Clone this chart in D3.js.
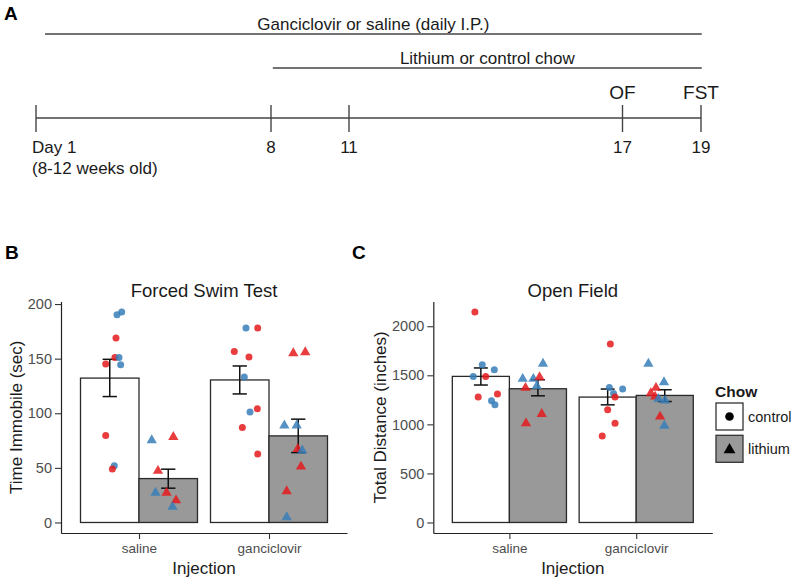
<!DOCTYPE html>
<html><head><meta charset="utf-8">
<script src="https://cdn.jsdelivr.net/npm/d3@7"></script>
<style>
body{margin:0;background:#fff}
svg{display:block}
text{font-family:"Liberation Sans",Arial,Helvetica,sans-serif}
</style>
</head><body>
<svg id="chart" width="800" height="578"></svg>
<script>
// ---------- Panel A: timeline ----------
const timelineDays = [1, 8, 11, 17, 19];
const timelineLabels = ["Day 1", "8", "11", "17", "19"];
const timelineSubLabel = "(8-12 weeks old)";
const eventDays = [17, 19];
const eventLabels = ["OF", "FST"];
const spanLabels = ["Ganciclovir or saline (daily I.P.)", "Lithium or control chow"];
const spanStarts = [1.27, 8.07];
const spanEnds = [19.02, 19.02];

// ---------- Panels B & C ----------
const injections = ["saline", "ganciclovir"];
const chows = ["control", "lithium"];
const dotColors = {r: "#E41A1C", b: "#377EB8"};

// order: saline-control, saline-lithium, ganciclovir-control, ganciclovir-lithium
const fstMeans   = [132.2, 40.2, 130.5, 79.3];
const fstErrLow  = [115.3, 31.4, 117.7, 64.0];
const fstErrHigh = [149.4, 48.8, 143.3, 94.6];
const fstTicks   = [0, 50, 100, 150, 200];
// [injection, chow, colour, value, jitter]
const fstPoints = [
  [0,0,"b",192.7,0.092],[0,0,"b",190.2,0.056],[0,0,"r",168.9,0.048],[0,0,"r",151.1,0.040],[0,0,"b",151.0,0.071],
  [0,0,"r",145.0,-0.031],[0,0,"b",144.4,0.084],[0,0,"r",79.7,-0.031],[0,0,"b",51.9,0.035],[0,0,"r",48.9,0.020],
  [0,1,"b",76,-0.127],[0,1,"r",79,0.039],[0,1,"r",48,-0.079],[0,1,"b",28,-0.098],[0,1,"r",28,-0.013],
  [0,1,"r",21,0.060],[0,1,"b",15,0.033],
  [1,0,"b",178,0.048],[1,0,"r",178,0.138],[1,0,"r",156.6,-0.042],[1,0,"r",151.5,0.071],[1,0,"b",133.2,0.035],
  [1,0,"r",104.1,0.135],[1,0,"b",101.1,0.079],[1,0,"r",87,0.020],[1,0,"r",62.6,0.138],
  [1,1,"r",155.7,-0.038],[1,1,"r",156.6,0.054],[1,1,"b",89.5,-0.107],[1,1,"b",89.5,-0.012],[1,1,"r",68.1,-0.004],
  [1,1,"b",66.6,0.031],[1,1,"r",51.9,0.021],[1,1,"r",29.3,-0.089],[1,1,"b",5.5,-0.089]
];

const ofMeans   = [1489, 1363, 1278, 1295];
const ofErrLow  = [1401, 1291, 1199, 1233];
const ofErrHigh = [1575, 1455, 1360, 1353];
const ofTicks   = [0, 500, 1000, 1500, 2000];
const ofPoints = [
  [0,0,"r",2145,-0.047],[0,0,"b",1608,0.011],[0,0,"b",1557,0.106],[0,0,"b",1489,-0.060],[0,0,"r",1489,0.038],
  [0,0,"r",1280,-0.021],[0,0,"r",1310,0.131],[0,0,"b",1240,0.084],[0,0,"b",1200,0.111],
  [0,1,"b",1472,-0.120],[0,1,"r",1380,-0.098],[0,1,"b",1472,-0.036],[0,1,"r",1489,0.013],[0,1,"b",1626,0.040],
  [0,1,"b",1400,-0.009],[0,1,"r",1114,0.030],[0,1,"r",1018,-0.094],
  [1,0,"r",1820,0.021],[1,0,"b",1375,0.013],[1,0,"b",1360,0.118],[1,0,"b",1315,0.046],[1,0,"r",1278,0.058],
  [1,0,"r",1148,0.0],[1,0,"r",1012,0.058],[1,0,"r",882,-0.043],
  [1,1,"b",1626,-0.129],[1,1,"b",1438,-0.006],[1,1,"r",1380,-0.069],[1,1,"r",1325,-0.110],[1,1,"r",1291,-0.076],
  [1,1,"b",1268,-0.050],[1,1,"b",1250,0.002],[1,1,"r",1087,-0.037],[1,1,"b",995,-0.003]
];

const svg = d3.select("#chart");
const ink = "#1a1a1a";

// ---------- Panel A ----------
const tl = d3.scaleLinear().domain(timelineDays).range([36, 271, 349, 622.5, 701]);
const gA = svg.append("g");
gA.append("text").attr("x", 4).attr("y", 20).attr("font-size", 19).attr("font-weight", "bold").text("A");
const spanY = [34, 68];
spanLabels.forEach((lab, i) => {
  gA.append("line").attr("x1", tl(spanStarts[i])).attr("x2", tl(spanEnds[i]))
    .attr("y1", spanY[i]).attr("y2", spanY[i]).attr("stroke", "#444").attr("stroke-width", 1.4);
  gA.append("text").attr("x", (tl(spanStarts[i]) + tl(spanEnds[i])) / 2).attr("y", spanY[i] - 4.5)
    .attr("text-anchor", "middle").attr("font-size", 17).attr("fill", ink).text(lab);
});
gA.append("line").attr("x1", tl(1)).attr("x2", tl(19)).attr("y1", 118).attr("y2", 118)
  .attr("stroke", "#444").attr("stroke-width", 1.4);
timelineDays.forEach((d, i) => {
  gA.append("line").attr("x1", tl(d)).attr("x2", tl(d)).attr("y1", 105).attr("y2", 132)
    .attr("stroke", "#444").attr("stroke-width", 1.4);
  gA.append("text").attr("x", i === 0 ? tl(d) - 4 : tl(d)).attr("y", 153)
    .attr("text-anchor", i === 0 ? "start" : "middle").attr("font-size", 17).attr("fill", ink)
    .text(timelineLabels[i]);
});
gA.append("text").attr("x", tl(1) - 4).attr("y", 174).attr("font-size", 17).attr("fill", ink).text(timelineSubLabel);
eventDays.forEach((d, i) => {
  gA.append("text").attr("x", tl(d)).attr("y", 99).attr("text-anchor", "middle")
    .attr("font-size", 19).attr("fill", ink).text(eventLabels[i]);
});

// ---------- Bar panels ----------
const yTop = 301.5, yBot = 533;
function panel(o) {
  const g = svg.append("g");
  const x = d3.scaleLinear().domain([0.4, 2.6]).range([o.x0, o.x1]);
  const maxV = d3.max(o.points, p => p[3]);
  const y = d3.scaleLinear().domain([-0.05 * maxV, maxV * 1.05]).range([yBot, yTop]);
  const half = 0.225;
  const center = (gi, ci) => gi + 1 + (ci === 0 ? -half : half);

  g.append("text").attr("x", o.letterX).attr("y", 259).attr("font-size", 19).attr("font-weight", "bold").text(o.letter);
  g.append("text").attr("x", (o.x0 + o.x1) / 2).attr("y", 296.5).attr("text-anchor", "middle")
    .attr("font-size", 18.5).attr("fill", ink).text(o.title);

  const bars = [];
  injections.forEach((inj, gi) => chows.forEach((ch, ci) => {
    const k = gi * 2 + ci;
    bars.push({gi, ci, mean: o.means[k], lo: o.lo[k], hi: o.hi[k]});
  }));
  g.selectAll("rect.bar").data(bars).enter().append("rect").attr("class", "bar")
    .attr("x", d => x(center(d.gi, d.ci) - half))
    .attr("width", d => x(center(d.gi, d.ci) + half) - x(center(d.gi, d.ci) - half))
    .attr("y", d => y(d.mean)).attr("height", d => y(0) - y(d.mean))
    .attr("fill", d => d.ci === 0 ? "#ffffff" : "#999999")
    .attr("stroke", "#2a2a2a").attr("stroke-width", 1.3);

  const cap = 0.055;
  bars.forEach(d => {
    const cx = x(center(d.gi, d.ci));
    g.append("line").attr("x1", cx).attr("x2", cx).attr("y1", y(d.lo)).attr("y2", y(d.hi))
      .attr("stroke", "#111").attr("stroke-width", 1.5);
    [d.lo, d.hi].forEach(v => g.append("line")
      .attr("x1", x(center(d.gi, d.ci) - cap)).attr("x2", x(center(d.gi, d.ci) + cap))
      .attr("y1", y(v)).attr("y2", y(v)).attr("stroke", "#111").attr("stroke-width", 1.5));
  });

  const tri = d3.symbol().type(d3.symbolTriangle).size(46);
  o.points.forEach(p => {
    const px = x(center(p[0], p[1]) + p[4]), py = y(p[3]);
    if (p[1] === 0) {
      g.append("circle").attr("cx", px).attr("cy", py).attr("r", 3.5)
        .attr("fill", dotColors[p[2]]).attr("fill-opacity", 0.85);
    } else {
      g.append("path").attr("d", tri).attr("transform", `translate(${px},${py + 0.8})`)
        .attr("fill", dotColors[p[2]]).attr("fill-opacity", 0.85);
    }
  });

  const ya = g.append("g").attr("transform", `translate(${o.x0},0)`)
    .call(d3.axisLeft(y).tickValues(o.ticks).tickFormat(d3.format("d")).tickSize(6).tickSizeOuter(0).tickPadding(3));
  const xa = g.append("g").attr("transform", `translate(0,${yBot})`)
    .call(d3.axisBottom(x).tickValues([1, 2]).tickFormat(i => injections[i - 1]).tickSize(6).tickSizeOuter(0).tickPadding(4));
  [ya, xa].forEach(a => {
    a.select(".domain").attr("stroke", "#222").attr("stroke-width", 1.2);
    a.selectAll(".tick line").attr("stroke", "#333").attr("stroke-width", 1.1);
    a.selectAll(".tick text").attr("fill", "#4d4d4d")
      .attr("font-family", "Liberation Sans, Arial, sans-serif");
  });
  ya.selectAll(".tick text").attr("font-size", 14.5);
  xa.selectAll(".tick text").attr("font-size", 13.5);
  g.append("text").attr("x", (o.x0 + o.x1) / 2).attr("y", 574).attr("text-anchor", "middle")
    .attr("font-size", 17).attr("fill", ink).text("Injection");
  g.append("text").attr("transform", `translate(${o.ylabX},${(yTop + yBot) / 2}) rotate(-90)`)
    .attr("text-anchor", "middle").attr("dy", "0.35em").attr("font-size", 17).attr("fill", ink).text(o.ylab);
}

panel({x0: 61, x1: 347, letter: "B", letterX: 5, title: "Forced Swim Test", ylab: "Time Immobile (sec)",
  ylabX: 16, means: fstMeans, lo: fstErrLow, hi: fstErrHigh, points: fstPoints, ticks: fstTicks});
panel({x0: 433.3, x1: 712.3, letter: "C", letterX: 352, title: "Open Field", ylab: "Total Distance (inches)",
  ylabX: 380, means: ofMeans, lo: ofErrLow, hi: ofErrHigh, points: ofPoints, ticks: ofTicks});

// ---------- Legend ----------
const lg = svg.append("g");
lg.append("text").attr("x", 715).attr("y", 397).attr("font-size", 15.5).attr("font-weight", "bold").attr("fill", ink).text("Chow");
chows.forEach((c, i) => {
  const by = 403 + i * 32.3;
  lg.append("rect").attr("x", 716).attr("y", by).attr("width", 27).attr("height", 27)
    .attr("fill", i === 0 ? "#fff" : "#999").attr("stroke", "#333").attr("stroke-width", 1.3);
  if (i === 0) lg.append("circle").attr("cx", 729.5).attr("cy", by + 13.5).attr("r", 4.3).attr("fill", "#000");
  else lg.append("path").attr("d", d3.symbol().type(d3.symbolTriangle).size(60))
    .attr("transform", `translate(729.5,${by + 14.5})`).attr("fill", "#000");
  lg.append("text").attr("x", 748).attr("y", by + 18.5).attr("font-size", 14.5).attr("fill", ink).text(c);
});
</script>
</body></html>
